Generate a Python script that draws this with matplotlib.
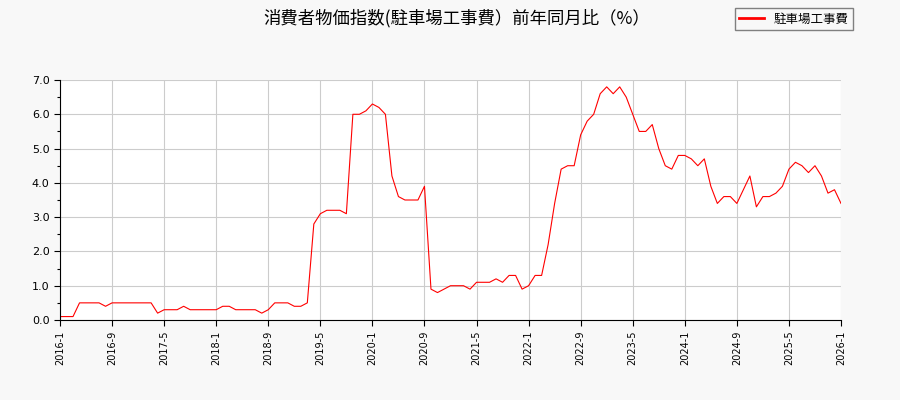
import matplotlib
matplotlib.use("Agg")
import matplotlib.pyplot as plt
from matplotlib.ticker import MultipleLocator, FormatStrFormatter

plt.rcParams['font.family'] = ['Noto Sans CJK JP', 'DejaVu Sans']

# 月 (2016-1 .. 2026-1)
months = [f"{y}-{m}" for y in range(2016, 2027) for m in range(1, 13)][:121]

# 駐車場工事費 前年同月比 (%)
values = [
    0.1, 0.1, 0.1, 0.5, 0.5, 0.5, 0.5, 0.4, 0.5, 0.5, 0.5, 0.5,   # 2016
    0.5, 0.5, 0.5, 0.2, 0.3, 0.3, 0.3, 0.4, 0.3, 0.3, 0.3, 0.3,   # 2017
    0.3, 0.4, 0.4, 0.3, 0.3, 0.3, 0.3, 0.2, 0.3, 0.5, 0.5, 0.5,   # 2018
    0.4, 0.4, 0.5, 2.8, 3.1, 3.2, 3.2, 3.2, 3.1, 6.0, 6.0, 6.1,   # 2019
    6.3, 6.2, 6.0, 4.2, 3.6, 3.5, 3.5, 3.5, 3.9, 0.9, 0.8, 0.9,   # 2020
    1.0, 1.0, 1.0, 0.9, 1.1, 1.1, 1.1, 1.2, 1.1, 1.3, 1.3, 0.9,   # 2021
    1.0, 1.3, 1.3, 2.2, 3.4, 4.4, 4.5, 4.5, 5.4, 5.8, 6.0, 6.6,   # 2022
    6.8, 6.6, 6.8, 6.5, 6.0, 5.5, 5.5, 5.7, 5.0, 4.5, 4.4, 4.8,   # 2023
    4.8, 4.7, 4.5, 4.7, 3.9, 3.4, 3.6, 3.6, 3.4, 3.8, 4.2, 3.3,   # 2024
    3.6, 3.6, 3.7, 3.9, 4.4, 4.6, 4.5, 4.3, 4.5, 4.2, 3.7, 3.8,   # 2025
    3.4,                                                          # 2026
]

series_name = "駐車場工事費"
title = "消費者物価指数(駐車場工事費）前年同月比（%）"

fig = plt.figure(figsize=(9, 4), dpi=100, facecolor='#f8f8f8')
ax = fig.add_axes([60 / 900, 80 / 400, 781 / 900, 240 / 400])
ax.set_facecolor('white')

x = list(range(len(months)))
ax.plot(x, values, color='red', linewidth=0.8, label=series_name)

ax.set_xlim(0, len(months) - 1)
ax.set_ylim(0, 7)
ax.set_xticks(x[::8])
ax.set_xticklabels(months[::8], rotation=90, fontsize=7, family='DejaVu Sans')
ax.yaxis.set_major_locator(MultipleLocator(1))
ax.yaxis.set_minor_locator(MultipleLocator(0.5))
ax.yaxis.set_major_formatter(FormatStrFormatter('%.1f'))
for lab in ax.get_yticklabels():
    lab.set_fontsize(8)
    lab.set_family('DejaVu Sans')

ax.grid(True, color='#cccccc', linewidth=0.8)
ax.set_axisbelow(True)
ax.spines['top'].set_visible(False)
ax.spines['right'].set_visible(False)
ax.tick_params(axis='both', which='major', length=4, width=0.8)
ax.tick_params(axis='y', which='minor', length=2, width=0.8)

fig.text(0.508, 0.955, title, ha='center', va='center', fontsize=12.5)
leg = fig.legend(loc='upper right', bbox_to_anchor=(0.955, 0.995), fontsize=9,
                 frameon=True, fancybox=False, edgecolor='#808080',
                 facecolor='#f8f8f8', framealpha=1, handlelength=2,
                 borderpad=0.35)
for h in leg.legend_handles:
    h.set_linewidth(2)

fig.savefig('out.png', dpi=100, facecolor=fig.get_facecolor())
